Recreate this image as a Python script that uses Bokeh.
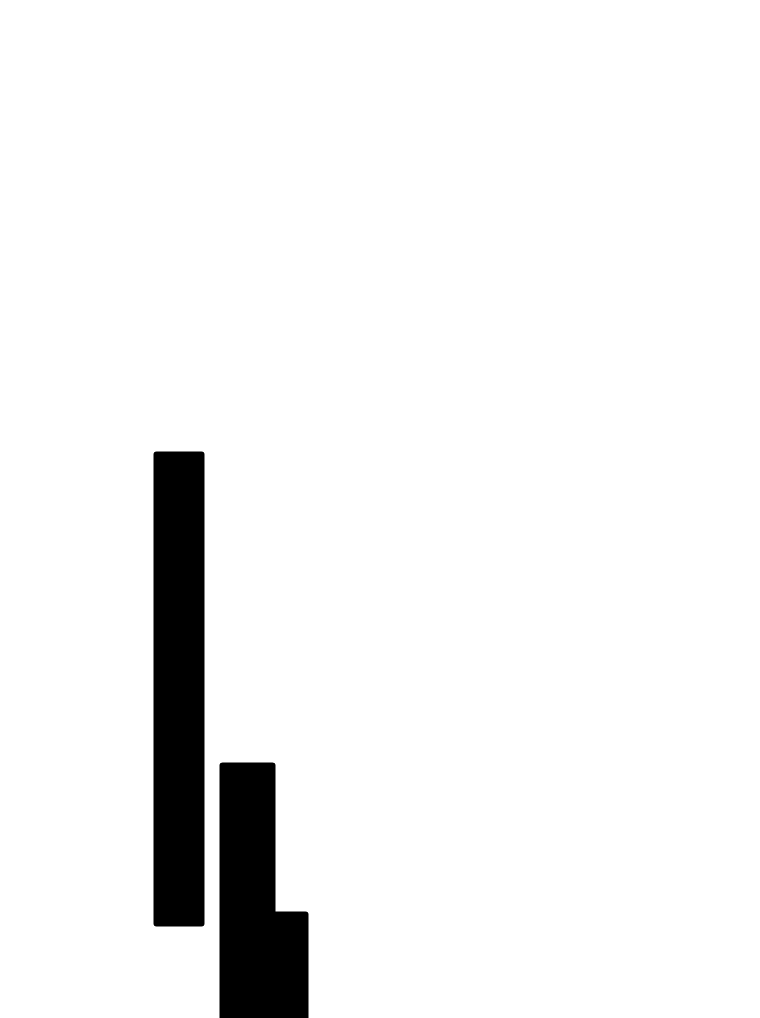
from bokeh.plotting import figure
from bokeh.models import ColumnDataSource, Range1d
from bokeh.embed import file_html
from bokeh.resources import INLINE

# floating bars: left/right edge and bottom/top value
bar_left = [14.6, 21.2, 26.75]
bar_right = [19.7, 26.8, 30.1]
bar_bottom = [11.1, 0.0, 0.0]
bar_top = [58.6, 27.5, 12.6]

p = figure(width=760, height=1018, toolbar_location=None, tools="",
           x_range=Range1d(-0.7, 75.3), y_range=Range1d(1.9, 103.7),
           background_fill_color="white", border_fill_color="white",
           outline_line_color=None, min_border=0)
p.output_backend = "svg"

src1 = ColumnDataSource(data=dict(left=bar_left[:1], right=bar_right[:1], bottom=bar_bottom[:1], top=bar_top[:1]))
src2 = ColumnDataSource(data=dict(left=bar_left[1:2], right=bar_right[1:2], bottom=bar_bottom[1:2], top=bar_top[1:2]))
src3 = ColumnDataSource(data=dict(left=bar_left[2:], right=bar_right[2:], bottom=bar_bottom[2:], top=bar_top[2:]))

p.quad(left="left", right="right", bottom="bottom", top="top", source=src2,
       fill_color="black", line_color=None, border_radius=(3, 3, 0, 0))
p.quad(left="left", right="right", bottom="bottom", top="top", source=src3,
       fill_color="black", line_color=None, border_radius=(0, 3, 0, 0))
p.quad(left="left", right="right", bottom="bottom", top="top", source=src1,
       fill_color="black", line_color=None, border_radius=3)

p.axis.visible = False
p.grid.grid_line_color = None

open("out.html", "w").write(file_html(p, INLINE))
